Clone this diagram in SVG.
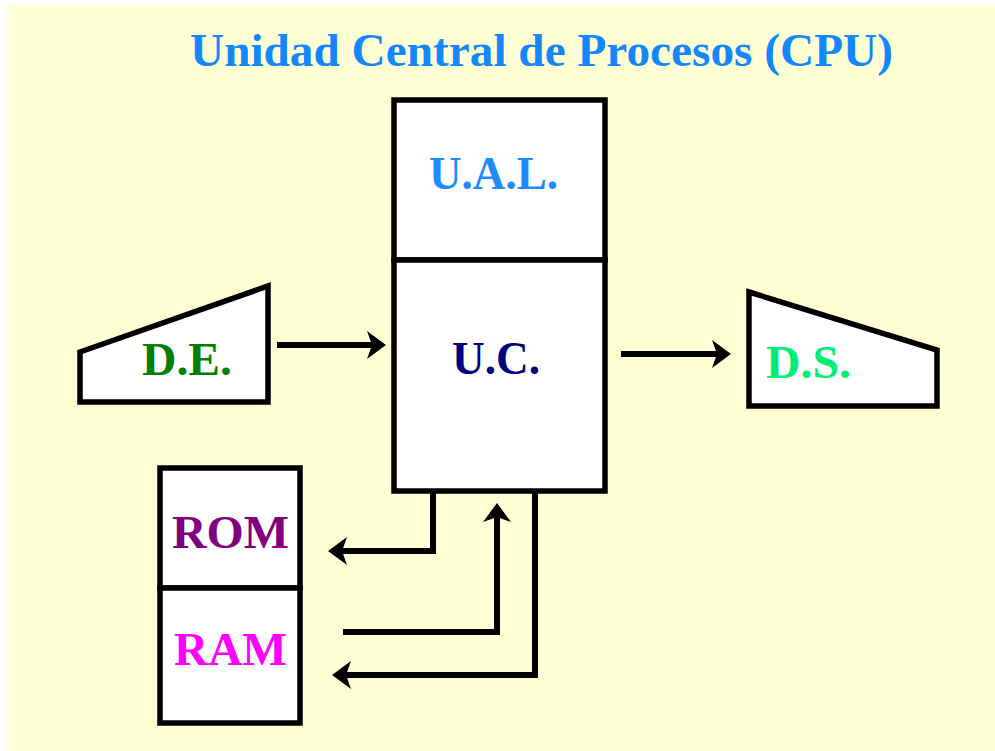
<svg xmlns="http://www.w3.org/2000/svg" width="995" height="751" viewBox="0 0 995 751">
<style>
.shape{fill:#ffffff;stroke:#000000;stroke-width:5.5;stroke-linejoin:miter}
.lbl{font-family:"Liberation Serif","Times New Roman",serif;font-weight:bold;font-size:46px}
.conn{fill:none;stroke:#000000;stroke-width:6;stroke-linejoin:miter;stroke-linecap:butt}
</style>
<defs>
<marker id="ah" viewBox="0 0 20 30" refX="5" refY="15" markerWidth="20" markerHeight="30" markerUnits="userSpaceOnUse" orient="auto">
<path d="M0,1 L19,15 L0,29 L5,15 Z" fill="#000000"/>
</marker>
</defs>
<rect x="0" y="0" width="995" height="751" fill="#ffffff"/>
<rect x="7" y="5" width="988" height="746" fill="#FFFFD4"/>
<text class="lbl" x="190" y="66" fill="#1487FF" textLength="703" lengthAdjust="spacingAndGlyphs">Unidad Central de Procesos (CPU)</text>
<g id="ual">
<rect class="shape" x="394" y="100" width="211" height="160"/>
<text class="lbl" x="429" y="189" fill="#1E8CFF" textLength="129" lengthAdjust="spacingAndGlyphs">U.A.L.</text>
</g>
<g id="uc">
<rect class="shape" x="394" y="260" width="211" height="231"/>
<text class="lbl" x="452" y="374" fill="#000080" textLength="88" lengthAdjust="spacingAndGlyphs">U.C.</text>
</g>
<g id="de">
<polygon class="shape" points="80,352 268,286 268,402 80,402"/>
<text class="lbl" x="142" y="375" fill="#008000" textLength="90" lengthAdjust="spacingAndGlyphs">D.E.</text>
</g>
<g id="ds">
<polygon class="shape" points="749,292 937,350 937,406 749,406"/>
<text class="lbl" x="766" y="378" fill="#00EE77" textLength="85" lengthAdjust="spacingAndGlyphs">D.S.</text>
</g>
<g id="rom">
<rect class="shape" x="160" y="468" width="140" height="120"/>
<text class="lbl" x="172" y="548" fill="#800080" textLength="117" lengthAdjust="spacingAndGlyphs">ROM</text>
</g>
<g id="ram">
<rect class="shape" x="160" y="588" width="140" height="135"/>
<text class="lbl" x="174" y="665" fill="#FF00FF" textLength="113" lengthAdjust="spacingAndGlyphs">RAM</text>
</g>
<g id="connectors">
<path class="conn" d="M277,345 H372" marker-end="url(#ah)"/>
<path class="conn" d="M621,354 H717" marker-end="url(#ah)"/>
<path class="conn" d="M433,493 V551 H342" marker-end="url(#ah)"/>
<path class="conn" d="M343,632 H497 V517" marker-end="url(#ah)"/>
<path class="conn" d="M535,493 V675 H346" marker-end="url(#ah)"/>
</g>
</svg>
